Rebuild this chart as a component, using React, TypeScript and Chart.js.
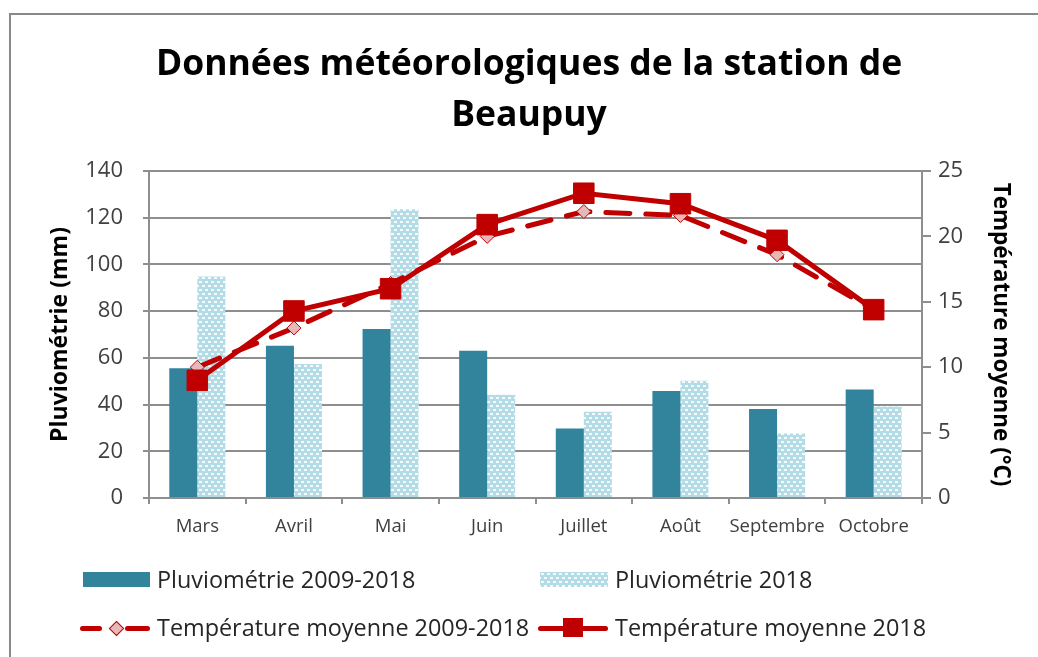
import React, { useEffect, useRef, useState } from 'react';
import { Chart, registerables } from 'chart.js';

Chart.register(...registerables);

// ---- Data ----
const months = ['Mars', 'Avril', 'Mai', 'Juin', 'Juillet', 'Août', 'Septembre', 'Octobre'];
const pluvio0918 = [55.5, 65.2, 72.4, 63.0, 29.8, 45.8, 38.1, 46.4];
const pluvio2018 = [94.8, 57.4, 123.6, 44.2, 36.9, 50.2, 27.6, 39.2];
const temp0918 = [10.0, 13.0, 16.4, 20.0, 21.9, 21.6, 18.6, 14.4];
const temp2018 = [9.0, 14.3, 16.0, 20.9, 23.3, 22.5, 19.7, 14.4];
const leftAxisRange = [0, 140, 20]; // min, max, step
const rightAxisRange = [0, 25, 5];

const titleLines = ['Données météorologiques de la station de', 'Beaupuy'];
const seriesNames = [
  'Pluviométrie 2009-2018',
  'Pluviométrie 2018',
  'Température moyenne 2009-2018',
  'Température moyenne 2018',
];
const axisTitles = ['Pluviométrie (mm)', 'Température moyenne (°C)'];

// ---- Styles ----
const FONT = '"Open Sans", Lato, sans-serif';
const TEAL = '#31849B';
const LIGHT = '#B4DCE7';
const RED = '#C00000';
const PINK = '#E6B9B8';
const GRID = '#8e8e8e';
const TICK_COLOR = '#404040';

function makePatternCanvas(): HTMLCanvasElement {
  const c = document.createElement('canvas');
  c.width = 6;
  c.height = 8;
  const g = c.getContext('2d')!;
  g.fillStyle = LIGHT;
  g.fillRect(0, 0, 6, 8);
  g.fillStyle = '#F7FBFD';
  g.fillRect(1, 1, 3, 2);
  g.fillRect(4, 5, 2, 2);
  g.fillRect(0, 5, 1, 2);
  return c;
}

export default function App() {
  const canvasRef = useRef<HTMLCanvasElement | null>(null);
  const [patternUrl, setPatternUrl] = useState<string>('');

  useEffect(() => {
    const canvas = canvasRef.current;
    if (!canvas) return;
    const ctx = canvas.getContext('2d')!;
    const pc = makePatternCanvas();
    setPatternUrl(pc.toDataURL());
    const pattern = ctx.createPattern(pc, 'repeat')!;

    const chart = new Chart(ctx, {
      type: 'bar',
      data: {
        labels: months,
        datasets: [
          {
            type: 'line',
            label: seriesNames[3],
            data: temp2018,
            yAxisID: 'y1',
            order: 0,
            borderColor: RED,
            borderWidth: 5,
            tension: 0,
            pointStyle: 'rect',
            pointRadius: 14.5,
            pointBackgroundColor: RED,
            pointBorderColor: RED,
            pointBorderWidth: 1,
          } as any,
          {
            type: 'line',
            label: seriesNames[2],
            data: temp0918,
            yAxisID: 'y1',
            order: 1,
            borderColor: RED,
            borderWidth: 5,
            borderDash: [24, 16],
            borderCapStyle: 'round',
            tension: 0,
            pointStyle: 'rectRot',
            pointRadius: 7,
            pointBackgroundColor: PINK,
            pointBorderColor: RED,
            pointBorderWidth: 1,
          } as any,
          {
            type: 'bar',
            label: seriesNames[0],
            data: pluvio0918,
            yAxisID: 'y',
            order: 2,
            backgroundColor: TEAL,
            borderWidth: 0,
            barPercentage: 1,
            categoryPercentage: 0.58,
          },
          {
            type: 'bar',
            label: seriesNames[1],
            data: pluvio2018,
            yAxisID: 'y',
            order: 3,
            backgroundColor: pattern as any,
            borderWidth: 0,
            barPercentage: 1,
            categoryPercentage: 0.58,
          },
        ],
      },
      options: {
        responsive: false,
        animation: false,
        devicePixelRatio: 1,
        layout: { padding: { top: 171, left: 0, right: 0, bottom: 119 } },
        plugins: {
          legend: { display: false },
          title: { display: false },
          tooltip: { enabled: false },
        },
        scales: {
          x: {
            type: 'category',
            position: 'bottom',
            offset: true,
            grid: {
              display: true,
              drawOnChartArea: false,
              drawTicks: true,
              tickLength: 6,
              color: GRID,
              lineWidth: 2,
              offset: true,
            },
            border: { display: true, color: GRID, width: 2 },
            ticks: {
              font: { family: FONT, size: 18.5 },
              color: TICK_COLOR,
              padding: 12,
              maxRotation: 0,
              autoSkip: false,
            },
            afterFit: (s: any) => {
              s.height = 40;
            },
          },
          y: {
            position: 'left',
            min: leftAxisRange[0],
            max: leftAxisRange[1],
            ticks: {
              stepSize: leftAxisRange[2],
              font: { family: FONT, size: 22 },
              color: TICK_COLOR,
              padding: 20,
            },
            grid: { color: GRID, lineWidth: 2, tickLength: 6, drawTicks: true },
            border: { display: true, color: GRID, width: 2 },
            title: {
              display: true,
              text: axisTitles[0],
              color: '#000',
              font: { family: FONT, size: 23, weight: 'bold' },
              padding: { top: 47, bottom: 0 },
            },
            afterFit: (s: any) => {
              s.width = 149;
            },
          },
          y1: {
            position: 'right',
            min: rightAxisRange[0],
            max: rightAxisRange[1],
            ticks: {
              stepSize: rightAxisRange[2],
              font: { family: FONT, size: 22 },
              color: TICK_COLOR,
              padding: 7,
            },
            grid: {
              color: GRID,
              lineWidth: 2,
              tickLength: 9,
              drawTicks: true,
              drawOnChartArea: false,
            },
            border: { display: true, color: GRID, width: 2 },
            title: {
              display: true,
              text: axisTitles[1],
              color: '#000',
              font: { family: FONT, size: 22.5, weight: 'bold' },
              padding: { top: 24, bottom: 0 },
            },
            afterFit: (s: any) => {
              s.width = 116;
            },
          },
        },
      } as any,
    });
    return () => chart.destroy();
  }, []);

  const legendText: React.CSSProperties = {
    position: 'absolute',
    fontFamily: FONT,
    fontSize: 23.4,
    lineHeight: '28px',
    height: 28,
    color: '#262626',
    whiteSpace: 'nowrap',
  };

  return (
    <div
      style={{
        position: 'fixed',
        left: 0,
        top: 0,
        width: 1038,
        height: 657,
        overflow: 'hidden',
        background: '#fff',
      }}
    >
      <div
        style={{
          position: 'absolute',
          left: 9,
          top: 13,
          width: 1200,
          height: 800,
          border: '2px solid #898989',
        }}
      />
      <canvas
        ref={canvasRef}
        width={1038}
        height={657}
        style={{ position: 'absolute', left: 0, top: 0, width: 1038, height: 657 }}
      />
      {/* Title */}
      <div
        style={{
          position: 'absolute',
          left: 29,
          width: 1000,
          top: 36,
          textAlign: 'center',
          fontFamily: FONT,
          fontWeight: 'bold',
          fontSize: 35.5,
          lineHeight: '51px',
          color: '#000',
        }}
      >
        {titleLines.map((l, i) => (
          <div key={i}>{l}</div>
        ))}
      </div>
      {/* Legend */}
      <div style={{ position: 'absolute', left: 83, top: 572, width: 67, height: 15, background: TEAL }} />
      <div style={{ ...legendText, left: 157, top: 565 }}>{seriesNames[0]}</div>
      <div
        style={{
          position: 'absolute',
          left: 540,
          top: 572,
          width: 68,
          height: 15,
          backgroundColor: LIGHT,
          backgroundImage: patternUrl ? `url(${patternUrl})` : undefined,
        }}
      />
      <div style={{ ...legendText, left: 615, top: 565 }}>{seriesNames[1]}</div>

      <div style={{ position: 'absolute', left: 80, top: 626, width: 22, height: 5, borderRadius: 3, background: RED }} />
      <div style={{ position: 'absolute', left: 125, top: 626, width: 25, height: 5, borderRadius: 3, background: RED }} />
      <div
        style={{
          position: 'absolute',
          left: 111,
          top: 623,
          width: 9,
          height: 9,
          background: PINK,
          border: `1px solid ${RED}`,
          transform: 'rotate(45deg)',
        }}
      />
      <div style={{ ...legendText, left: 157, top: 613 }}>{seriesNames[2]}</div>

      <div style={{ position: 'absolute', left: 538, top: 626, width: 70, height: 5, borderRadius: 3, background: RED }} />
      <div style={{ position: 'absolute', left: 563, top: 618, width: 20, height: 19, background: RED }} />
      <div style={{ ...legendText, left: 615, top: 613 }}>{seriesNames[3]}</div>
    </div>
  );
}
